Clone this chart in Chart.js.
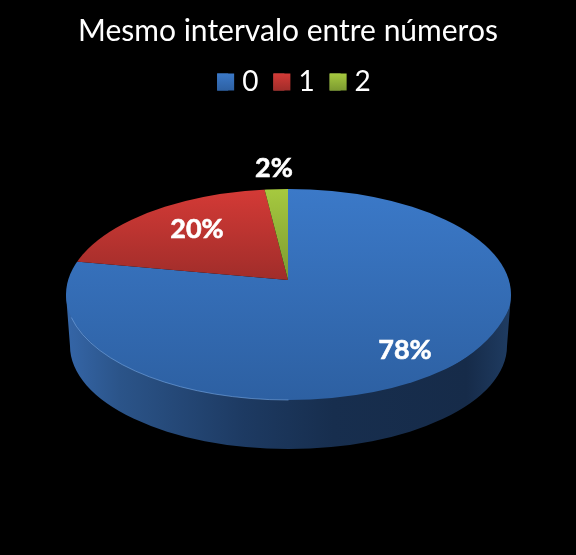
<!DOCTYPE html>
<html>
<head>
<meta charset="utf-8">
<style>
  html, body { margin: 0; background: #000; }
  canvas { display: block; }
</style>
<script src="https://cdn.jsdelivr.net/npm/chart.js@4"></script>
</head>
<body>
<canvas id="myChart" width="576" height="555"></canvas>
<script>
const categories = ['0', '1', '2'];
const shares = [78.3, 20, 1.7];
const chartTitle = 'Mesmo intervalo entre números';

const baseColors = ['#3a74bf', '#c0504d', '#9bbb59'];
// top and bottom colour of each slice on the pie surface
const sliceShades = [['#3b79c8', '#2d60a2'], ['#d43a36', '#a02d2a'], ['#a6c93f', '#7c9a30']];
const labelSpots = [[405, 350], [197, 229], [274, 168]];

// where the tilted disc ends up on the page
const apex = { x: 288, y: 280 };
const top3d = { cx: 288.5, cy: 294.5, rx: 222.5, ry: 105.5 };
const bottom3d = { cx: 288.5, cy: 346, rx: 218.5, ry: 103 };

function drawWall(ctx) {
  const g = ctx.createLinearGradient(66, 0, 511, 0);
  g.addColorStop(0, '#3566a8');
  g.addColorStop(0.12, '#2b5489');
  g.addColorStop(0.4, '#1d3a62');
  g.addColorStop(0.6, '#172e4e');
  g.addColorStop(0.9, '#162b49');
  g.addColorStop(1, '#1f3c62');
  ctx.fillStyle = g;
  ctx.beginPath();
  ctx.moveTo(top3d.cx - top3d.rx, top3d.cy);
  ctx.lineTo(bottom3d.cx - bottom3d.rx, bottom3d.cy);
  ctx.ellipse(bottom3d.cx, bottom3d.cy, bottom3d.rx, bottom3d.ry, 0, Math.PI, 0, true);
  ctx.lineTo(top3d.cx + top3d.rx, top3d.cy);
  ctx.closePath();
  ctx.fill();
}

function drawHalf(chart, isUpper) {
  const ctx = chart.ctx;
  const arcs = chart.getDatasetMeta(0).data;
  arcs.forEach(function(arc, i) {
    const R = arc.outerRadius;
    const sx = 227 / R;
    const sy = (isUpper ? 94 : 125) / R;
    // gradient has to be given in the squashed coordinates
    const toLocal = function(py) { return arc.y + (py - apex.y) / sy; };
    const shade = sliceShades[i];
    const endY = i === 0 ? 400 : apex.y;
    const g = ctx.createLinearGradient(0, toLocal(189), 0, toLocal(endY));
    g.addColorStop(0, shade[0]);
    g.addColorStop(1, shade[1]);
    const flat = Object.create(arc);
    flat.options = Object.assign({}, arc.options, {
      backgroundColor: g, borderWidth: 0, borderColor: 'transparent',
      offset: 0, spacing: 0, borderRadius: 0, circular: true
    });
    ctx.save();
    ctx.beginPath();
    if (isUpper) ctx.rect(0, 0, 576, apex.y + 0.5);
    else ctx.rect(0, apex.y, 576, 555 - apex.y);
    ctx.clip();
    ctx.translate(apex.x, apex.y);
    ctx.scale(sx, sy);
    ctx.translate(-arc.x, -arc.y);
    Chart.ArcElement.prototype.draw.call(flat, ctx);
    ctx.restore();
  });
}

const tiltedPie = {
  id: 'tiltedPie',
  afterLayout(chart) {
    // legend sits a bit right of centre in the original
    const shift = 6;
    chart.legend.left += shift;
    chart.legend.right += shift;
    chart.legend.legendHitBoxes.forEach(function(box) { box.left += shift; });
  },
  beforeDatasetsDraw(chart) {
    const ctx = chart.ctx;
    drawWall(ctx);
    ctx.save();
    ctx.beginPath();
    ctx.ellipse(top3d.cx, top3d.cy, top3d.rx, top3d.ry, 0, 0, Math.PI * 2);
    ctx.clip();
    drawHalf(chart, true);
    drawHalf(chart, false);
    ctx.restore();
    // thin light rim on the front left
    ctx.strokeStyle = 'rgba(125,175,235,0.55)';
    ctx.lineWidth = 1;
    ctx.beginPath();
    ctx.ellipse(top3d.cx, top3d.cy, top3d.rx, top3d.ry, 0, Math.PI * 0.5, Math.PI * 0.93);
    ctx.stroke();
    return false;
  },
  afterDraw(chart) {
    const ctx = chart.ctx;
    ctx.save();
    ctx.fillStyle = '#fff';
    ctx.strokeStyle = '#fff';
    ctx.lineWidth = 0.6;
    ctx.font = 'bold 27px Lato';
    ctx.textAlign = 'center';
    ctx.textBaseline = 'middle';
    shares.forEach(function(v, i) {
      const text = Math.round(v) + '%';
      ctx.fillText(text, labelSpots[i][0], labelSpots[i][1]);
      ctx.strokeText(text, labelSpots[i][0], labelSpots[i][1]);
    });
    // legend keys are wider than the library's text gap allows
    chart.legend.legendHitBoxes.forEach(function(box, i) {
      const midY = box.top + box.height / 2;
      const g = ctx.createLinearGradient(0, midY - 8.5, 0, midY + 8.5);
      g.addColorStop(0, sliceShades[i][0]);
      g.addColorStop(1, sliceShades[i][1]);
      ctx.fillStyle = g;
      ctx.fillRect(box.left, midY - 8.5, 17, 17);
    });
    ctx.restore();
  }
};

const init = function() {
  const ctx = document.getElementById('myChart').getContext('2d');
  new Chart(ctx, {
    type: 'pie',
    data: {
      labels: categories,
      datasets: [{ data: shares, backgroundColor: baseColors, borderWidth: 0 }]
    },
    plugins: [tiltedPie],
    options: {
      responsive: false,
      animation: false,
      devicePixelRatio: 1,
      plugins: {
        tooltip: { enabled: false },
        title: {
          display: true,
          text: chartTitle,
          color: '#fff',
          font: { family: 'Lato', size: 30, weight: 'normal' },
          padding: { top: 13, bottom: 4 }
        },
        legend: {
          position: 'top',
          labels: {
            color: '#fff',
            boxWidth: 11,
            boxHeight: 17,
            padding: 15,
            font: { family: 'Lato', size: 28 }
          }
        }
      }
    }
  });
};

document.addEventListener('DOMContentLoaded', init);
</script>
</body>
</html>
